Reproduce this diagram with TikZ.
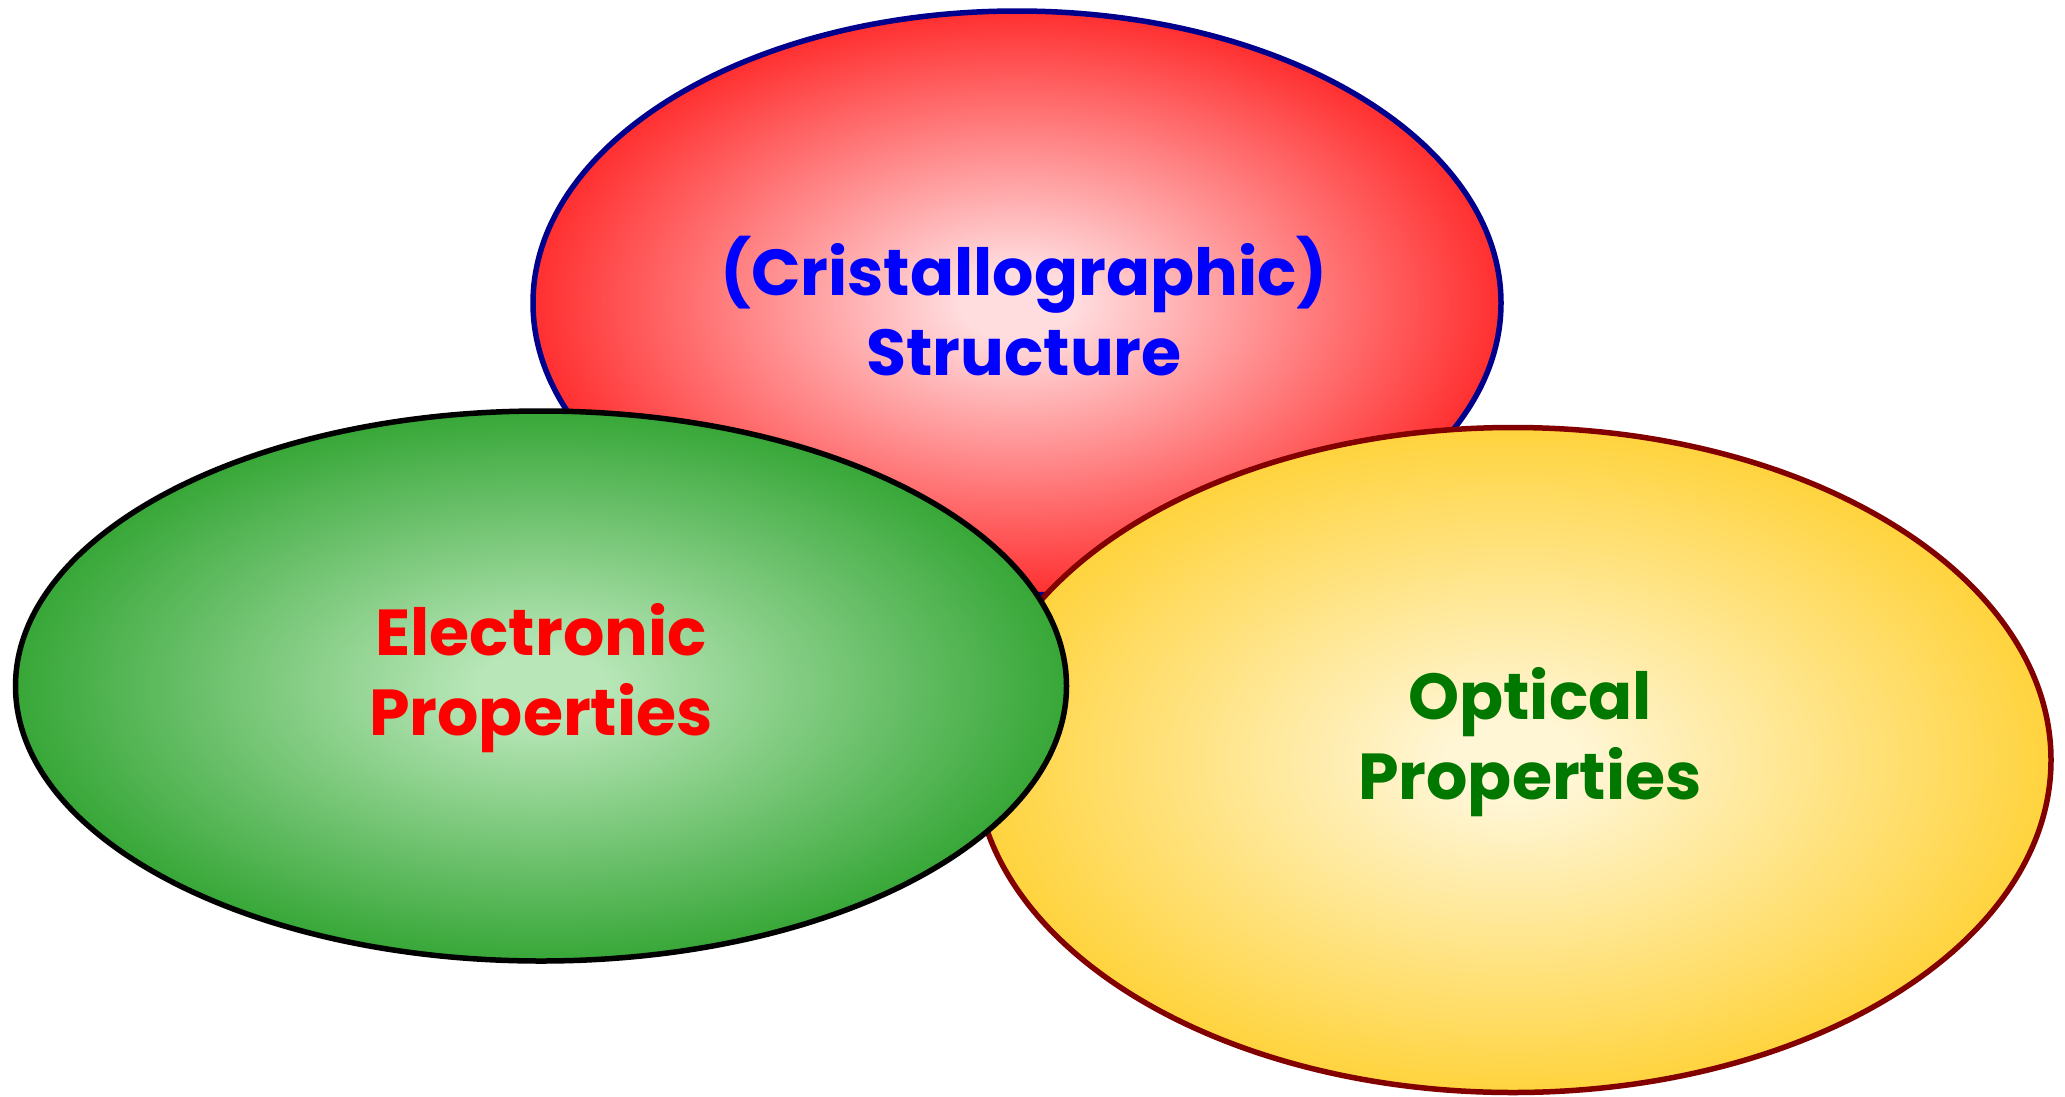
\documentclass[tikz,border=0pt]{standalone}
\usepackage{fontspec}
\setmainfont{Poppins}
\usetikzlibrary{shapes.geometric}
\definecolor{redout}{RGB}{255,0,0}
\definecolor{redin}{RGB}{255,220,222}
\definecolor{greenout}{RGB}{20,150,20}
\definecolor{greenin}{RGB}{184,230,184}
\definecolor{yelout}{RGB}{255,202,20}
\definecolor{yelin}{RGB}{255,246,214}
\definecolor{edgeblue}{RGB}{0,0,140}
\definecolor{edgemaroon}{RGB}{130,0,0}
\definecolor{txtgreen}{RGB}{0,120,0}
\pgfdeclareradialshading{redshade}{\pgfpoint{0bp}{0bp}}{color(0bp)=(redin); color(3bp)=(redin); color(31bp)=(redout); color(50bp)=(redout)}
\pgfdeclareradialshading{greenshade}{\pgfpoint{0bp}{0bp}}{color(0bp)=(greenin); color(3bp)=(greenin); color(31bp)=(greenout); color(50bp)=(greenout)}
\pgfdeclareradialshading{yelshade}{\pgfpoint{0bp}{0bp}}{color(0bp)=(yelin); color(3bp)=(yelin); color(31bp)=(yelout); color(50bp)=(yelout)}
\tikzset{
  blob/.style={ellipse, inner sep=0pt, line width=5.5pt},
  lbl/.style={align=center, font=\fontsize{65}{80}\selectfont\bfseries}
}
\begin{document}
\begin{tikzpicture}[x=1pt,y=-1pt]
\useasboundingbox (0,0) rectangle (2065,1096);
\node[blob, draw=edgeblue, shading=redshade,
      minimum width=968pt, minimum height=584pt] (red) at (1017,303) {};
\node[blob, draw=edgemaroon, shading=yelshade,
      minimum width=1076pt, minimum height=665pt] (yellow) at (1513,760) {};
\node[blob, draw=black, shading=greenshade,
      minimum width=1051pt, minimum height=550pt] (green) at (541,686) {};
\node[lbl, text=blue] (tstruct) at (1024,306) {(Cristallographic)\\Structure};
\node[lbl, text=red] (telec) at (541,678) {Electronic\\Properties};
\node[lbl, text=txtgreen] (topt) at (1530,742) {Optical\\Properties};
\end{tikzpicture}
\end{document}
